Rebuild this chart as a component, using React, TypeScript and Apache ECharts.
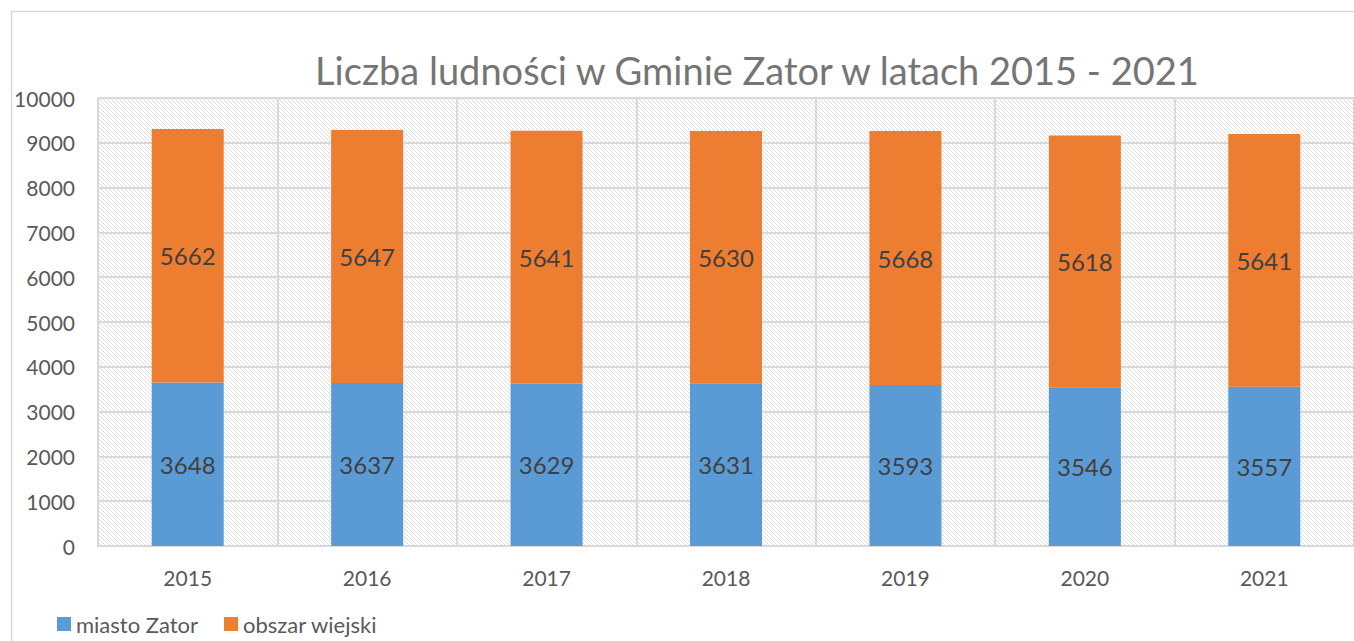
import React, { useEffect, useRef } from "react";
import * as echarts from "echarts";

const years = ["2015", "2016", "2017", "2018", "2019", "2020", "2021"];
const miastoZator = [3648, 3637, 3629, 3631, 3593, 3546, 3557];
const obszarWiejski = [5662, 5647, 5641, 5630, 5668, 5618, 5641];
const titleText = "Liczba ludności w Gminie Zator w latach 2015 - 2021";
const seriesNames = ["miasto Zator", "obszar wiejski"];

const FONT = "Lato, 'Noto Sans', sans-serif";

function makePattern(): HTMLCanvasElement {
  const c = document.createElement("canvas");
  c.width = 4;
  c.height = 4;
  const ctx = c.getContext("2d")!;
  ctx.fillStyle = "#ffffff";
  ctx.fillRect(0, 0, 4, 4);
  ctx.fillStyle = "#dedede";
  for (let i = 0; i < 4; i++) {
    ctx.fillRect(i, i, 1, 1);
  }
  return c;
}

export default function App() {
  const ref = useRef<HTMLDivElement>(null);
  useEffect(() => {
    if (!ref.current) return;
    const chart = echarts.init(ref.current, undefined, { renderer: "svg" });
    const pattern = makePattern();
    chart.setOption({
      animation: false,
      backgroundColor: "#ffffff",
      textStyle: { fontFamily: FONT },
      title: {
        text: titleText,
        left: 752,
        textAlign: "center",
        top: 46,
        textStyle: { fontFamily: FONT, fontSize: 38, fontWeight: "normal", color: "#757575" },
      },
      graphic: [
        {
          type: "rect",
          shape: { x: 11.5, y: 11.5, width: 1400, height: 700 },
          style: { fill: "none", stroke: "#d9d9d9", lineWidth: 1.5 },
          z: -10,
          silent: true,
        },
      ],
      legend: {
        left: 52,
        top: 608,
        icon: "rect",
        itemWidth: 14,
        itemHeight: 14,
        itemGap: 26,
        itemStyle: { borderWidth: 0 },
        textStyle: { fontFamily: FONT, fontSize: 22, color: "#595959" },
        data: seriesNames,
      },
      grid: {
        left: 98,
        top: 98,
        width: 1260,
        height: 448,
        show: true,
        borderWidth: 0,
        backgroundColor: { image: pattern, repeat: "repeat" },
      },
      xAxis: {
        type: "category",
        data: years,
        axisLine: { show: true, lineStyle: { color: "#d9d9d9", width: 2 } },
        axisTick: { show: false },
        splitLine: { show: true, lineStyle: { color: "#d9d9d9", width: 2 } },
        axisLabel: { fontFamily: FONT, fontSize: 21, color: "#595959", margin: 21 },
      },
      yAxis: {
        type: "value",
        min: 0,
        max: 10000,
        interval: 1000,
        axisLine: { show: false },
        axisTick: { show: false },
        splitLine: { show: true, lineStyle: { color: "#d9d9d9", width: 2 } },
        axisLabel: {
          fontFamily: FONT,
          fontSize: 21,
          color: "#595959",
          margin: 23,
          formatter: (v: number) => String(v),
        },
      },
      series: [
        {
          name: seriesNames[0],
          type: "bar",
          stack: "total",
          data: miastoZator,
          barWidth: 72,
          itemStyle: { color: "#5b9bd5" },
          label: {
            show: true,
            position: "inside",
            fontFamily: FONT,
            fontSize: 24,
            color: "#404040",
          },
        },
        {
          name: seriesNames[1],
          type: "bar",
          stack: "total",
          data: obszarWiejski,
          barWidth: 72,
          itemStyle: { color: "#ed7d31" },
          label: {
            show: true,
            position: "inside",
            fontFamily: FONT,
            fontSize: 24,
            color: "#404040",
          },
        },
      ],
    });
    return () => chart.dispose();
  }, []);
  return (
    <div
      ref={ref}
      style={{ position: "fixed", left: 0, top: 0, width: 1354, height: 641 }}
    />
  );
}
